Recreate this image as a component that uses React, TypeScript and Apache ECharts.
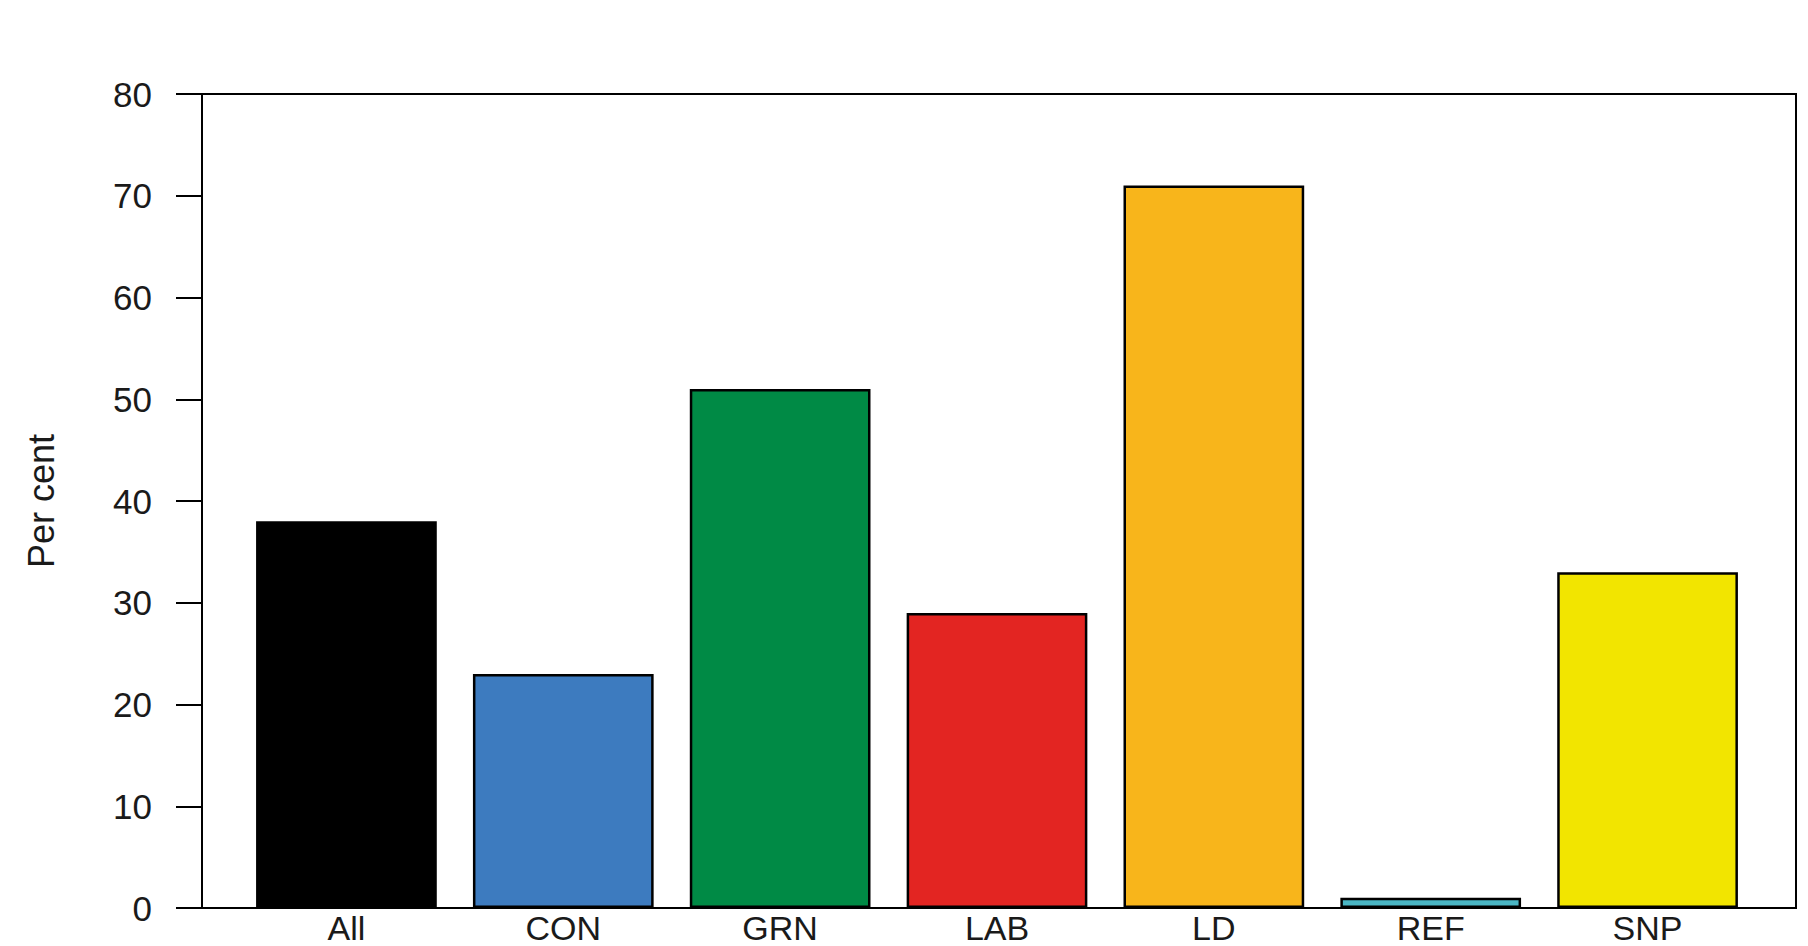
import React, { useEffect, useRef } from "react";
import * as echarts from "echarts";

const parties = ["All", "CON", "GRN", "LAB", "LD", "REF", "SNP"];
const percents = [38, 23, 51, 29, 71, 1, 33];
const barColors = ["#000000", "#3d7bbf", "#008a45", "#e32522", "#f8b51b", "#4ab6c4", "#f2e500"];
const yTicks = [0, 10, 20, 30, 40, 50, 60, 70, 80];

const FONT = "'Liberation Sans', Arial, sans-serif";

const App: React.FC = () => {
  const chartRef = useRef<HTMLDivElement | null>(null);

  useEffect(() => {
    document.body.style.margin = "0";
    if (!chartRef.current) return;
    const chart = echarts.init(chartRef.current, null, { renderer: "svg" });

    const option = {
      animation: false,
      backgroundColor: "#ffffff",
      grid: [
        // outer box, like R's box()
        { left: 202, right: 12, top: 94, bottom: 38, show: true, borderColor: "#000", borderWidth: 2, backgroundColor: "transparent", z: 3 },
        // inner area holding the bars
        { left: 238, right: 52, top: 94, bottom: 38 },
      ],
      xAxis: [
        { gridIndex: 0, type: "category", data: parties, show: false },
        {
          gridIndex: 1,
          type: "category",
          data: parties,
          axisLine: { show: false },
          axisTick: { show: false },
          axisLabel: { fontFamily: FONT, fontSize: 34, lineHeight: 34, color: "#1a1a1a", margin: 3 },
        },
      ],
      yAxis: [
        {
          gridIndex: 0,
          type: "value",
          min: yTicks[0],
          max: yTicks[yTicks.length - 1],
          interval: 10,
          name: "Per cent",
          nameLocation: "middle",
          nameGap: 143,
          nameTextStyle: { fontFamily: FONT, fontSize: 36, color: "#1a1a1a" },
          axisLine: { show: true, lineStyle: { color: "#000", width: 2 } },
          axisTick: { show: true, length: 26, lineStyle: { color: "#000", width: 2 } },
          axisLabel: {
            fontFamily: FONT,
            fontSize: 35,
            color: "#1a1a1a",
            margin: 50,
            padding: [10, 0, 0, 0],
            formatter: (v: number) => (yTicks.includes(v) ? String(v) : ""),
          },
          splitLine: { show: false },
        },
        { gridIndex: 1, type: "value", min: 0, max: 80, show: false },
      ],
      series: [
        {
          type: "bar",
          xAxisIndex: 1,
          yAxisIndex: 1,
          barCategoryGap: "16.67%",
          data: percents.map((v, i) => ({
            value: v,
            itemStyle: { color: barColors[i], borderColor: "#000", borderWidth: 2.5 },
          })),
        },
      ],
    };

    chart.setOption(option);
    const handleResize = () => chart.resize();
    window.addEventListener("resize", handleResize);
    return () => {
      window.removeEventListener("resize", handleResize);
      chart.dispose();
    };
  }, []);

  return (
    <div
      ref={chartRef}
      style={{ position: "fixed", left: 0, top: 0, width: "100vw", height: "100vh", background: "#fff" }}
    />
  );
};

export default App;
